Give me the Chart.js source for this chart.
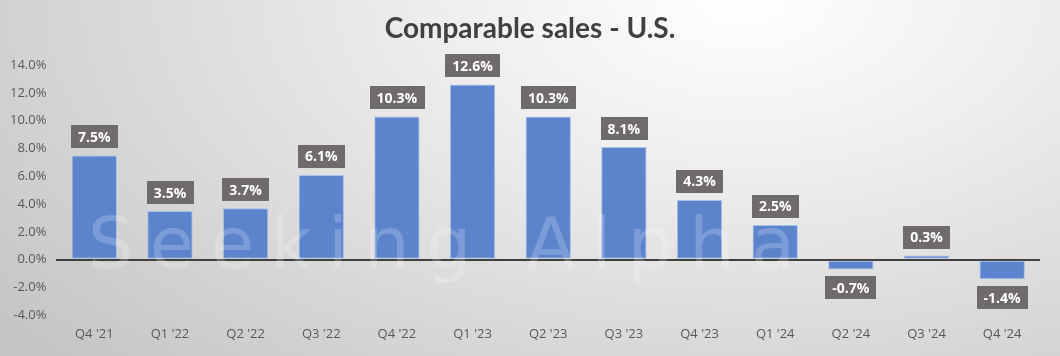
<!DOCTYPE html>
<html>
<head>
<meta charset="utf-8">
<script src="https://cdn.jsdelivr.net/npm/chart.js@4.4.0/dist/chart.umd.min.js"></script>
<style>
  html, body { margin: 0; padding: 0; }
  body {
    width: 1060px; height: 356px; overflow: hidden;
    background: radial-gradient(ellipse 90% 150% at 70% 0%, #ffffff 0%, #efefef 30%, #d6d6d6 70%, #c4c4c4 100%);
  }
  #wrap { position: relative; width: 1060px; height: 356px; }
</style>
</head>
<body>
<div id="wrap"><canvas id="c" width="1060" height="356"></canvas></div>
<script>
const categories = ["Q4 '21", "Q1 '22", "Q2 '22", "Q3 '22", "Q4 '22", "Q1 '23", "Q2 '23", "Q3 '23", "Q4 '23", "Q1 '24", "Q2 '24", "Q3 '24", "Q4 '24"];
const comparableSales = [7.5, 3.5, 3.7, 6.1, 10.3, 12.6, 10.3, 8.1, 4.3, 2.5, -0.7, 0.3, -1.4];
const yTicks = [-4, -2, 0, 2, 4, 6, 8, 10, 12, 14];
const titleText = "Comparable sales - U.S.";
const watermarkText = "Seeking Alpha";

const labelPlugin = {
  id: 'barLabels',
  afterDatasetsDraw(chart) {
    const ctx = chart.ctx;
    const meta = chart.getDatasetMeta(0);
    ctx.save();
    ctx.font = 'bold 14px "Open Sans", sans-serif';
    ctx.textAlign = 'center';
    ctx.textBaseline = 'middle';
    meta.data.forEach((bar, i) => {
      const v = comparableSales[i];
      const txt = v.toFixed(1) + '%';
      const w = ctx.measureText(txt).width + 14;
      const h = 23;
      let cy;
      if (v >= 0) cy = bar.y - 7 - h / 2;
      else cy = bar.y + 7 + h / 2;
      ctx.fillStyle = '#6f6b6a';
      ctx.fillRect(Math.round(bar.x - w / 2), Math.round(cy - h / 2), Math.round(w), h);
      ctx.fillStyle = '#ffffff';
      ctx.fillText(txt, bar.x, cy + 1);
    });
    ctx.restore();
  }
};

const titlePlugin = {
  id: 'titleDraw',
  afterDraw(chart) {
    const ctx = chart.ctx;
    ctx.save();
    ctx.font = 'bold 28px Lato, "Open Sans", sans-serif';
    ctx.fillStyle = '#404040';
    ctx.textAlign = 'center';
    ctx.textBaseline = 'middle';
    ctx.fillText(titleText, 530, 29);
    ctx.restore();
  }
};

const watermarkPlugin = {
  id: 'watermark',
  afterDatasetsDraw(chart) {
    const ctx = chart.ctx;
    ctx.save();
    ctx.font = '72px "DejaVu Sans", sans-serif';
    ctx.fillStyle = 'rgba(255,255,255,0.2)';
    ctx.textAlign = 'left';
    ctx.textBaseline = 'alphabetic';
    if ('letterSpacing' in ctx) ctx.letterSpacing = '16px';
    ctx.fillText(watermarkText, 88, 268);
    ctx.restore();
  }
};

new Chart(document.getElementById('c'), {
  type: 'bar',
  data: {
    labels: categories,
    datasets: [{
      data: comparableSales,
      backgroundColor: '#5b84cc',
      borderColor: '#a9c0e8',
      borderWidth: 1,
      borderSkipped: false,
      barPercentage: 0.6,
      categoryPercentage: 1.0
    }]
  },
  options: {
    responsive: false,
    animation: false,
    devicePixelRatio: 1,
    layout: { padding: { top: 65, right: 20, bottom: 11, left: 0 } },
    plugins: {
      legend: { display: false },
      title: { display: false },
      tooltip: { enabled: false }
    },
    scales: {
      x: {
        grid: { display: false },
        border: { display: false },
        ticks: { color: '#595959', font: { size: 13, family: '"Open Sans", sans-serif' }, padding: 3, maxRotation: 0 }
      },
      y: {
        min: -4, max: 14,
        afterBuildTicks(axis) { axis.ticks = yTicks.map(v => ({ value: v })); },
        grid: {
          drawTicks: false,
          color: (c) => (c.tick && c.tick.value === 0) ? '#404040' : 'rgba(0,0,0,0)',
          lineWidth: (c) => (c.tick && c.tick.value === 0) ? 2 : 0
        },
        border: { display: false },
        ticks: {
          color: '#595959',
          font: { size: 13, family: '"Open Sans", sans-serif' },
          padding: 10,
          callback: (v) => v.toFixed(1) + '%'
        }
      }
    }
  },
  plugins: [labelPlugin, titlePlugin, watermarkPlugin]
});
</script>
</body>
</html>
